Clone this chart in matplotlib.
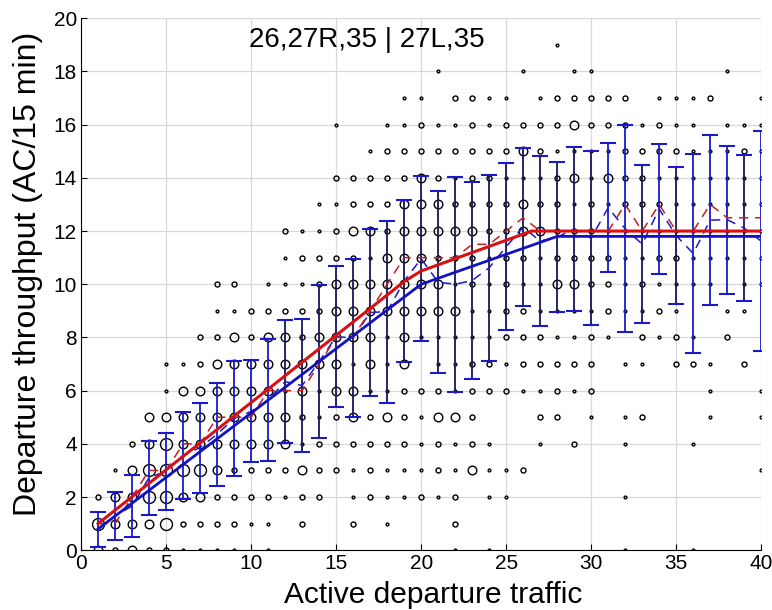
import matplotlib.pyplot as plt
import numpy as np

# marker size class per x (1..40), one char per y = 0..19 (0 = no point)
counts = [
    "34200000000000000000", "23310000000000000000", "33332000000000000000",
    "23443300000000000000", "24444311000000000000", "12343331000000000000",
    "12343332200000000000", "12233333212000000000", "12223333312000000000",
    "01223333220000000000", "11223333321000000000", "00123313321120000000",
    "02231233221210000000", "00222113322211000000", "00022233333221201000",
    "02112331333232200000", "00222213333132210000", "01112311133322221000",
    "00112223333333221100", "00211120133333322100", "00122321133233221010",
    "12211311131232121200", "00032222112232222200", "10111022111122221100",
    "00110021222222122100", "00020012221233132010", "00001212211132122100",
    "00000222113222212201", "00002012113221313210", "00000122212222112210",
    "00000000122211312200", "10101101011112222200", "00000201212112221000",
    "00000000121212122100", "00000002211211121100", "10001002101111111100",
    "00000111001111110200", "00000000210111111010", "00000002011111121000",
    "00010110001111111100",
]

traffic = np.arange(1, 41)
mean_thr = [0.78, 1.29, 1.66, 2.73, 2.97, 3.57, 3.86, 4.36, 4.95, 5.22,
            5.65, 6.34, 6.19, 7.09, 8.03, 7.98, 8.94, 8.97, 10.12, 10.96,
            10.08, 10.00, 10.14, 10.62, 11.41, 12.15, 11.62, 11.77, 12.08, 11.73,
            12.88, 12.09, 11.51, 12.83, 11.83, 11.16, 12.41, 12.43, 12.11, 11.62]
std_thr = [0.66, 0.89, 1.16, 1.39, 1.44, 1.63, 1.69, 1.94, 2.16, 1.92,
           2.29, 2.32, 2.49, 2.88, 2.65, 2.97, 3.13, 3.42, 3.05, 3.10,
           3.43, 4.05, 3.72, 3.50, 3.14, 2.97, 3.19, 2.83, 3.08, 3.27,
           2.43, 3.89, 2.96, 2.45, 2.58, 3.74, 3.19, 2.78, 2.74, 4.13]
median_thr = [1, 1, 2, 3, 3, 4, 4, 5, 5, 5, 6, 6, 6, 7, 8, 8, 9, 10, 11, 11,
              11, 11, 11.5, 11.5, 12, 12.5, 12, 12, 12, 12, 12, 13, 12, 13, 12, 12,
              13, 12.5, 12.5, 12.5]

fit_mean_x = [1, 20, 28, 40]
fit_mean_y = [0.8, 10.0, 11.8, 11.8]
fit_med_x = [1, 19, 20, 26.5, 40]
fit_med_y = [1.0, 10.1, 10.5, 12.0, 12.0]

plt.rcParams['font.family'] = ['Liberation Sans', 'DejaVu Sans']

fig = plt.figure(figsize=(7.72, 6.10), dpi=100)
ax = fig.add_axes([0.105, 0.098, 0.881, 0.872])

ms_for = {'1': 2.0, '2': 3.6, '3': 6.2, '4': 8.6}
for k, ms in ms_for.items():
    xs, ys = [], []
    for i, col in enumerate(counts):
        for j, c in enumerate(col):
            if c == k:
                xs.append(traffic[i])
                ys.append(j)
    ax.plot(xs, ys, 'o', ms=ms, mfc='none', mec='black', mew=1.0, zorder=2)

dark = set(list(range(12, 31)) + [33, 35, 39])
bar_colors = ['#16165a' if t in dark else '#1a1acc' for t in traffic]
eb = ax.errorbar(traffic, mean_thr, yerr=std_thr, fmt='none', ecolor='#1a1acc',
                 elinewidth=1.3, capsize=5.5, capthick=1.5, zorder=3)
eb[2][0].set_color(bar_colors)

ax.plot(traffic, mean_thr, color='#1a1acc', lw=1.1, dashes=(6, 4.5), zorder=4)
ax.plot(traffic, median_thr, color='#c02020', lw=1.1, dashes=(6, 4.5), zorder=4)
ax.plot(fit_mean_x, fit_mean_y, color='#1212c0', lw=2.0, zorder=5)
ax.plot(fit_med_x, fit_med_y, color='#d81010', lw=2.2, zorder=6)

ax.set_xlim(0, 40)
ax.set_ylim(0, 20)
ax.set_xticks(range(0, 41, 5))
ax.set_yticks(range(0, 21, 2))
ax.grid(True, color='#d8d8d8', lw=0.9)
ax.set_axisbelow(True)
for s in ['top', 'right']:
    ax.spines[s].set_visible(False)
ax.tick_params(direction='in', length=4, labelsize=15, pad=3)
ax.set_xlabel('Active departure traffic', fontsize=21.5)
ax.set_ylabel('Departure throughput (AC/15 min)', fontsize=23)
ax.xaxis.set_label_coords(0.518, -0.058)
ax.yaxis.set_label_coords(-0.056, 0.52)
ax.text(16.8, 19.2, '26,27R,35 | 27L,35', fontsize=20, ha='center', va='center')

plt.savefig('out.png', dpi=100)
